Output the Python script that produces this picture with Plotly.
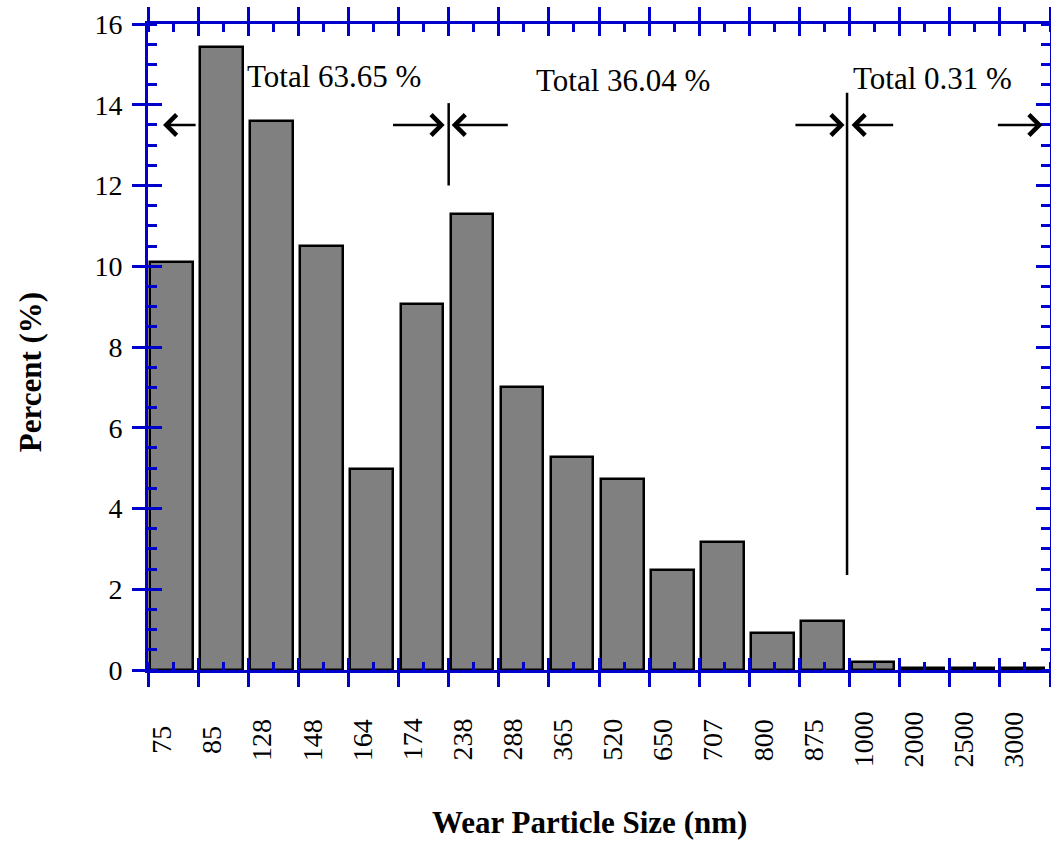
import plotly.graph_objects as go

# ---------------- data ----------------
sizes = ["75", "85", "128", "148", "164", "174", "238", "288", "365", "520",
         "650", "707", "800", "875", "1000", "2000", "2500", "3000"]
percent = [10.1, 15.42, 13.6, 10.5, 4.97, 9.06, 11.3, 7.0, 5.27, 4.72,
           2.47, 3.16, 0.91, 1.21, 0.19, 0.04, 0.04, 0.04]
group_labels = ["Total 63.65 %", "Total 36.04 %", "Total 0.31 %"]
y_ticks = [0, 2, 4, 6, 8, 10, 12, 14, 16]

FONT = "Liberation Serif, Times New Roman, serif"
BLUE = "#0000CD"
n = len(sizes)
bar_x = [i + 0.465 for i in range(n)]

fig = go.Figure()
fig.add_trace(go.Bar(
    x=bar_x, y=percent, width=0.85,
    marker=dict(color="#808080", line=dict(color="black", width=2.5)),
    showlegend=False, hoverinfo="skip",
))
# invisible trace so the overlay axes (inside major ticks) are drawn
fig.add_trace(go.Scatter(x=[0], y=[0], xaxis="x2", yaxis="y2", mode="markers",
                         marker=dict(opacity=0), showlegend=False, hoverinfo="skip"))

axis_common = dict(showgrid=False, zeroline=False, showline=True, automargin=False,
                   linecolor=BLUE, linewidth=3, tickcolor=BLUE, tickwidth=3)

fig.update_layout(
    width=1051, height=841, autosize=False, showlegend=False,
    margin=dict(l=148, r=1, t=24, b=171, pad=0),
    paper_bgcolor="white", plot_bgcolor="white",
    bargap=0,
    xaxis=dict(**axis_common, range=[0, n], tickmode="linear", tick0=0, dtick=1,
               ticks="outside", ticklen=14, mirror="ticks", showticklabels=False,
               minor=dict(ticks="inside", ticklen=8, tick0=0, dtick=0.5,
                          tickcolor=BLUE, tickwidth=3)),
    yaxis=dict(**axis_common, range=[0, 16], tickvals=y_ticks,
               ticks="outside", ticklen=13, mirror="ticks",
               tickfont=dict(family=FONT, size=28, color="black"),
               ticklabelstandoff=4,
               minor=dict(ticks="inside", ticklen=9, tick0=0, dtick=0.5,
                          tickcolor=BLUE, tickwidth=3)),
    xaxis2=dict(**axis_common, range=[0, n], overlaying="x", anchor="y2", side="bottom",
                tickmode="linear", tick0=0, dtick=1, ticks="inside", ticklen=12,
                mirror="ticks", showticklabels=False),
    yaxis2=dict(**axis_common, range=[0, 16], overlaying="y", anchor="x2", side="left",
                tickvals=y_ticks, ticks="inside", ticklen=14, mirror="ticks",
                showticklabels=False),
)

ann = []
# x tick labels (rotated, centered)
for i, s in enumerate(sizes):
    ann.append(dict(x=i + 0.28, xref="x", y=-0.108, yref="paper", text=s,
                    textangle=-90, showarrow=False, xanchor="center", yanchor="middle",
                    font=dict(family=FONT, size=28, color="black")))
# axis titles
ann.append(dict(x=0.49, xref="paper", y=-0.2353, yref="paper",
                text="<b>Wear Particle Size (nm)</b>", showarrow=False,
                xanchor="center", yanchor="middle",
                font=dict(family=FONT, size=31, color="black")))
ann.append(dict(x=-0.1308, xref="paper", y=0.461, yref="paper",
                text="<b>Percent (%)</b>", textangle=-90, showarrow=False,
                xanchor="center", yanchor="middle",
                font=dict(family=FONT, size=31, color="black")))
# group totals
for (tx, ty), t in zip([(3.71, 14.69), (9.48, 14.59), (15.66, 14.64)], group_labels):
    ann.append(dict(x=tx, y=ty, xref="x", yref="y", text=t, showarrow=False,
                    xanchor="center", yanchor="middle",
                    font=dict(family=FONT, size=31, color="black")))
# arrows (head, tail)
for (hx, tx) in [(0.30, 0.98), (5.92, 4.86), (6.06, 7.21),
                 (13.9, 12.89), (14.04, 14.9), (17.85, 16.93)]:
    ann.append(dict(x=hx, y=13.5, ax=tx, ay=13.5, xref="x", yref="y",
                    axref="x", ayref="y", text="", showarrow=True,
                    arrowhead=4, arrowsize=1.6, arrowwidth=2.5, arrowcolor="black"))
fig.update_layout(annotations=ann)

# separator lines
fig.add_shape(type="line", x0=6.0, x1=6.0, y0=12.0, y1=14.04, xref="x", yref="y",
              line=dict(color="black", width=2.5))
fig.add_shape(type="line", x0=13.95, x1=13.95, y0=2.35, y1=14.3, xref="x", yref="y",
              line=dict(color="black", width=2.5))

fig.write_html("out.html")
